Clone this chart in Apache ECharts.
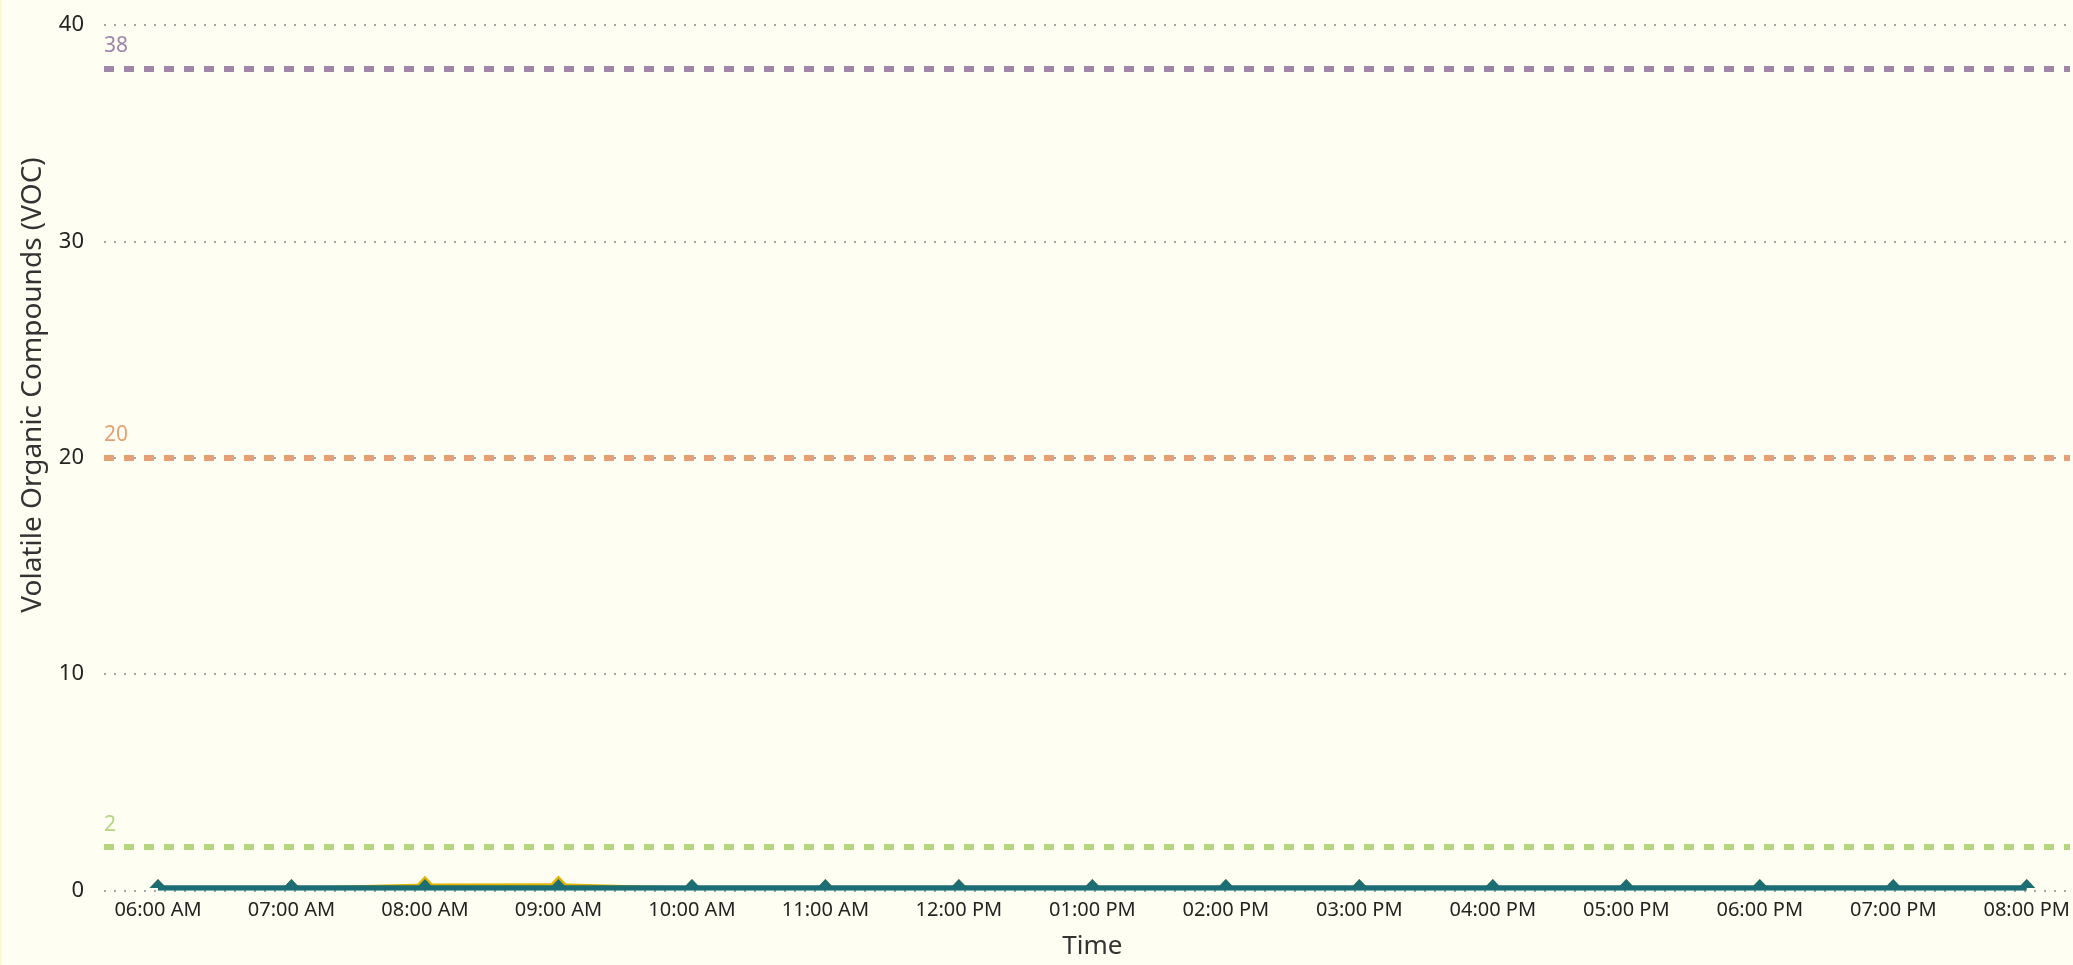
<!DOCTYPE html>
<html>
<head>
<meta charset="utf-8">
<title>VOC</title>
<script src="https://cdn.jsdelivr.net/npm/echarts@6/dist/echarts.min.js"></script>
<style>
  html, body { margin: 0; padding: 0; background: #fefef2; }
  #chart { position: absolute; left: 0; top: 0; width: 2073px; height: 965px; }
  #strip { position: absolute; left: 0; top: 0; width: 2px; height: 965px; background: #fdf9cf; }
</style>
</head>
<body>
<div id="chart"></div>
<div id="strip"></div>
<script>
// categories and values
const timeLabels = ['06:00 AM', '07:00 AM', '08:00 AM', '09:00 AM', '10:00 AM', '11:00 AM', '12:00 PM',
  '01:00 PM', '02:00 PM', '03:00 PM', '04:00 PM', '05:00 PM', '06:00 PM', '07:00 PM', '08:00 PM'];
const vocYellow = [0, 0, 0.15, 0.16, 0, 0, 0, 0, 0, 0, 0, 0, 0, 0, 0];
const vocTeal = [0, 0, 0, 0, 0, 0, 0, 0, 0, 0, 0, 0, 0, 0, 0];
const thresholdValues = [38, 20, 2];
const thresholdColors = ['#a286a9', '#e5a074', '#b3d67f'];

const font = 'Noto Sans';
const textColor = '#252423';

const chart = echarts.init(document.getElementById('chart'));

// half diamond: the lower half sits under the axis in the original
const marker = {
  symbol: 'triangle',
  symbolSize: [17, 9],
  symbolOffset: [0, -4.5]
};

chart.setOption({
  backgroundColor: '#fefef2',
  animation: false,
  grid: [
    { left: 104, right: 3, top: 25, bottom: 74.5 },
    { left: 158, right: 46, top: 25, bottom: 74.5 }
  ],
  xAxis: [
    { type: 'value', gridIndex: 0, min: 0, max: 1, show: false },
    {
      type: 'category', gridIndex: 1, data: timeLabels, boundaryGap: false,
      axisLine: { show: false }, axisTick: { show: false },
      axisLabel: { color: textColor, fontFamily: font, fontSize: 20, margin: 12 },
      name: 'Time', nameLocation: 'middle', nameGap: 46,
      nameTextStyle: { color: '#333', fontFamily: font, fontSize: 26 }
    }
  ],
  yAxis: [
    {
      type: 'value', gridIndex: 0, min: 0, max: 40, interval: 10,
      axisLine: { show: false }, axisTick: { show: false },
      axisLabel: { color: textColor, fontFamily: font, fontSize: 22, margin: 20 },
      splitLine: { lineStyle: { color: '#a6a6a6', width: 2, type: [2, 8] } }
    },
    { type: 'value', gridIndex: 1, min: 0, max: 40, show: false }
  ],
  graphic: [{
    type: 'text',
    rotation: Math.PI / 2,
    x: 33, y: 385,
    style: {
      text: 'Volatile Organic Compounds (VOC)',
      fill: '#333', font: '28px "Noto Sans"',
      align: 'center', verticalAlign: 'middle'
    }
  }],
  series: [
    {
      type: 'line', xAxisIndex: 0, yAxisIndex: 0, data: [],
      markLine: {
        silent: true, symbol: 'none',
        data: thresholdValues.map((v, i) => ({
          yAxis: v,
          lineStyle: { color: thresholdColors[i], width: 6, type: [10, 10] },
          label: {
            show: true, position: 'insideStartTop', formatter: String(v),
            color: thresholdColors[i], fontFamily: font, fontSize: 21,
            distance: [0, 12]
          }
        }))
      }
    },
    Object.assign({
      type: 'line', xAxisIndex: 1, yAxisIndex: 1, data: vocYellow,
      lineStyle: { color: '#e0b400', width: 2.5 },
      itemStyle: { color: '#e0b400' },
      z: 3
    }, marker),
    Object.assign({
      type: 'line', xAxisIndex: 1, yAxisIndex: 1, data: vocTeal,
      lineStyle: { color: '#1b6e73', width: 5.5 },
      itemStyle: { color: '#1b6e73' },
      z: 4
    }, marker)
  ]
});
</script>
</body>
</html>
